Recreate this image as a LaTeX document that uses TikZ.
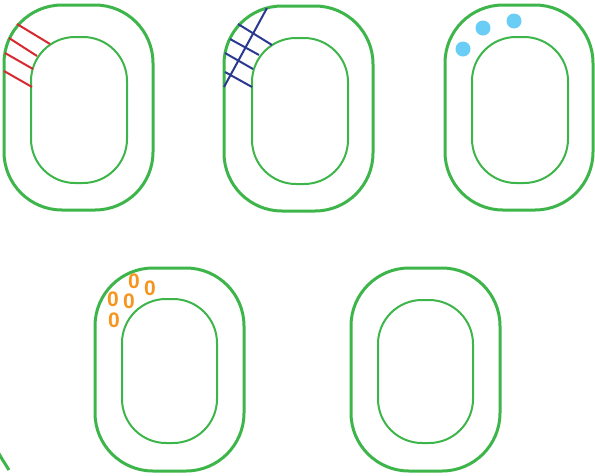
\documentclass[tikz,border=0pt]{standalone}
\usepackage{fontspec}
\newfontfamily\digitfont{Liberation Sans}
\definecolor{cgreen}{HTML}{3DB54A}
\definecolor{cred}{HTML}{D7282F}
\definecolor{cblue}{HTML}{2B3990}
\definecolor{cdot}{HTML}{6ACDF5}
\definecolor{corange}{HTML}{F7941D}
\begin{document}
\begin{tikzpicture}[x=1pt,y=-1pt,
  outer/.style={draw=cgreen,line width=3pt,rounded corners=58pt},
  inner/.style={draw=cgreen,line width=2pt,rounded corners=44pt},
  redline/.style={draw=cred,line width=2pt},
  blueline/.style={draw=cblue,line width=2pt},
  dot/.style={fill=cdot},
  zero/.style={text=corange,font=\digitfont\bfseries\fontsize{21}{21}\selectfont,inner sep=0pt}]
\useasboundingbox (0,0) rectangle (595,475);
\clip (0,0) rectangle (595,475);
% shape 1
\draw[outer] (4,5) rectangle (153,210);
\draw[inner] (31,37) rectangle (127,183);
\draw[redline] (17,24) -- (50,44);
\draw[redline] (9,38) -- (37,56);
\draw[redline] (5,53) -- (33,69);
\draw[redline] (4,71) -- (32,87);
% shape 2
\draw[outer] (224,6) rectangle (373,211);
\draw[inner] (252,38) rectangle (348,184);
\draw[blueline] (238,24) -- (272,45);
\draw[blueline] (230,39) -- (259,55);
\draw[blueline] (225,53) -- (253,69);
\draw[blueline] (225,72) -- (252,87);
\draw[blueline] (267,8) -- (224,87);
% shape 3
\draw[outer] (445,5) rectangle (593,210);
\draw[inner] (472,37) rectangle (568,183);
\fill[dot] (463,49) circle (7.5);
\fill[dot] (483,28) circle (7.5);
\fill[dot] (514,21) circle (7.5);
% shape 4
\draw[outer] (95,268) rectangle (244,471);
\draw[inner] (122,299) rectangle (217,443);
\node[zero] (z1) at (134,281) {0};
\node[zero] (z2) at (150,288) {0};
\node[zero] (z3) at (113,299) {0};
\node[zero] (z4) at (129,301) {0};
\node[zero] (z5) at (114,320) {0};
% shape 5
\draw[outer] (351,268) rectangle (500,471);
\draw[inner] (378,300) rectangle (473,443);
% fragment bottom-left
\draw[cgreen,line width=3pt] (-2,452) .. controls (2,459) .. (9,470);
\end{tikzpicture}
\end{document}
